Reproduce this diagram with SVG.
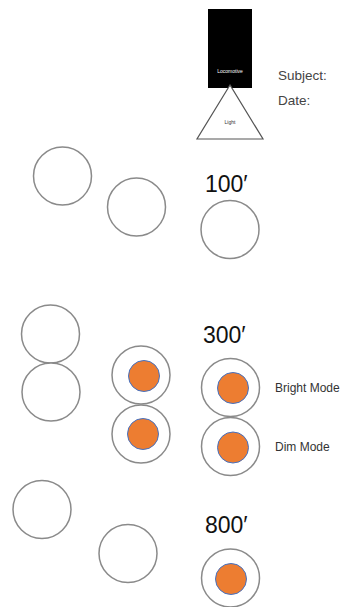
<svg xmlns="http://www.w3.org/2000/svg" width="346" height="607" viewBox="0 0 346 607">
<style>
.ring{fill:#fff;stroke:#8a8a8a;stroke-width:1.5}
.lamp{fill:#ED7D31;stroke:#4472C4;stroke-width:1}
.dist{font-family:"Liberation Sans",Arial,sans-serif;font-size:23px;fill:#111}
.lbl{font-family:"Liberation Sans",Arial,sans-serif;font-size:12px;fill:#333}
.hdr{font-family:"Liberation Sans",Arial,sans-serif;font-size:13.5px;fill:#444}
</style>
<rect width="346" height="607" fill="#fff"/>
<g id="locomotive">
<rect x="208" y="9" width="44" height="79" fill="#000"/>
<text x="230" y="72.5" text-anchor="middle" font-family="Liberation Sans,Arial,sans-serif" font-size="5" fill="#fff">Locomotive</text>
</g>
<g id="light">
<polygon points="230,85 197,139 263,139" fill="#fff" stroke="#555" stroke-width="1.2"/>
<text x="230" y="123.5" text-anchor="middle" font-family="Liberation Sans,Arial,sans-serif" font-size="5" fill="#333">Light</text>
</g>
<g id="header">
<text class="hdr" x="278" y="80">Subject:</text>
<text class="hdr" x="278" y="105">Date:</text>
</g>
<g id="row100">
<circle class="ring" cx="62.5" cy="176" r="29"/>
<circle class="ring" cx="136.5" cy="207" r="29"/>
<text class="dist" x="205" y="192">100′</text>
<circle class="ring" cx="230" cy="229.5" r="29"/>
</g>
<g id="row300">
<circle class="ring" cx="50.5" cy="334" r="29"/>
<circle class="ring" cx="51" cy="392" r="29"/>
<circle class="ring" cx="141" cy="375" r="29"/>
<circle class="lamp" cx="144" cy="376" r="15.5"/>
<circle class="ring" cx="141" cy="434" r="29"/>
<circle class="lamp" cx="143" cy="434" r="15.5"/>
<text class="dist" x="203" y="343">300′</text>
<circle class="ring" cx="230.5" cy="387.5" r="29"/>
<circle class="lamp" cx="233" cy="388" r="15.5"/>
<circle class="ring" cx="230.5" cy="446.5" r="29"/>
<circle class="lamp" cx="233" cy="447.5" r="15.5"/>
<text class="lbl" x="275" y="392">Bright Mode</text>
<text class="lbl" x="275" y="451">Dim Mode</text>
</g>
<g id="row800">
<circle class="ring" cx="42" cy="509.5" r="29"/>
<circle class="ring" cx="128" cy="553.5" r="29"/>
<text class="dist" x="205" y="533">800′</text>
<circle class="ring" cx="230.5" cy="578" r="29"/>
<circle class="lamp" cx="231" cy="579" r="15.5"/>
</g>
<g id="connectors"/>
</svg>
